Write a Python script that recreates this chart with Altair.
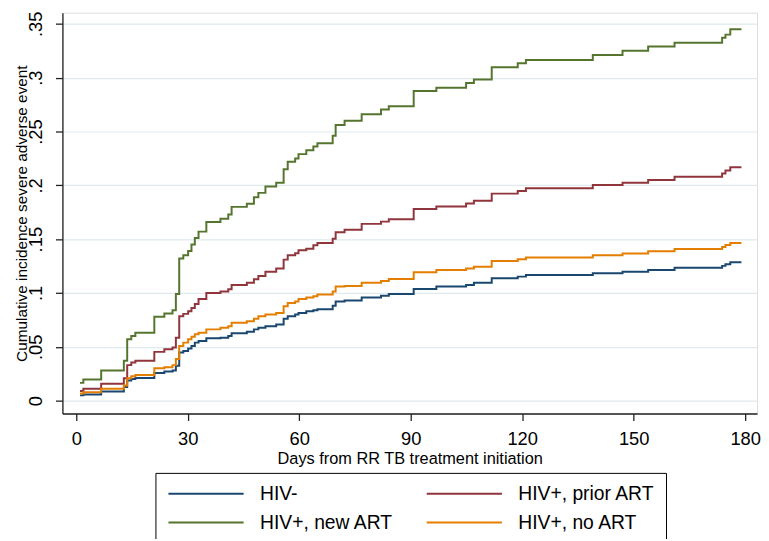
import altair as alt
import pandas as pd

# step times (days) shared by all four cumulative incidence curves
days = [1.0, 1.9, 6.7, 12.8, 13.7, 14.8, 15.9, 21.0, 23.7, 25.9,
        26.8, 27.7, 28.8, 30.1, 31.0, 31.9, 32.9, 35.0, 38.8, 40.9,
        41.8, 45.9, 47.8, 49.0, 50.9, 53.8, 55.8, 56.9, 58.9, 59.8,
        61.9, 63.8, 64.9, 69.0, 69.8, 72.2, 76.8, 82.0, 84.1, 90.8,
        96.9, 104.9, 107.0, 111.8, 118.8, 121.0, 139.0, 147.0, 153.9, 161.0,
        173.8, 174.7, 176.0, 179.0]

hiv_neg = [0.0049, 0.0058, 0.0086, 0.0126, 0.0187, 0.0202, 0.0211, 0.0257, 0.027, 0.0279,
           0.0324, 0.0447, 0.0462, 0.0484, 0.0508, 0.0539, 0.0554, 0.0579, 0.0585, 0.060,
           0.0625, 0.064, 0.0662, 0.0677, 0.0692, 0.0708, 0.076, 0.0784, 0.080, 0.0815,
           0.083, 0.0840, 0.0850, 0.0882, 0.0922, 0.0931, 0.0959, 0.0974, 0.099, 0.1038,
           0.106, 0.1075, 0.1096, 0.1137, 0.1152, 0.1167, 0.1183, 0.1197, 0.1213, 0.1234,
           0.1252, 0.1268, 0.1286, 0.1286]

hiv_prior_art = [0.0089, 0.011, 0.0156, 0.0208, 0.033, 0.0355, 0.037, 0.0453, 0.0478, 0.0493,
                 0.0585, 0.0784, 0.0806, 0.083, 0.086, 0.0898, 0.0944, 0.0999, 0.1014, 0.1035,
                 0.1075, 0.1096, 0.1127, 0.1158, 0.1197, 0.1228, 0.131, 0.135, 0.137, 0.1397,
                 0.1412, 0.1443, 0.1464, 0.1504, 0.1565, 0.1587, 0.1642, 0.1663, 0.1685, 0.178,
                 0.1804, 0.1832, 0.1856, 0.1923, 0.1948, 0.1972, 0.2003, 0.2024, 0.2049, 0.208,
                 0.211, 0.2137, 0.2168, 0.2168]

hiv_new_art = [0.0165, 0.0196, 0.028, 0.037, 0.057, 0.060, 0.063, 0.078, 0.081, 0.084,
               0.099, 0.132, 0.135, 0.139, 0.145, 0.151, 0.157, 0.166, 0.169, 0.173,
               0.180, 0.183, 0.189, 0.193, 0.199, 0.2025, 0.215, 0.222, 0.225, 0.229,
               0.2325, 0.236, 0.239, 0.246, 0.256, 0.260, 0.266, 0.2705, 0.2735, 0.2877,
               0.2907, 0.295, 0.2984, 0.3097, 0.3134, 0.3164, 0.321, 0.325, 0.329, 0.3324,
               0.337, 0.340, 0.345, 0.345]

hiv_no_art = [0.0067, 0.0077, 0.011, 0.014, 0.0208, 0.0227, 0.0239, 0.030, 0.031, 0.033,
              0.0386, 0.0508, 0.0539, 0.057, 0.0594, 0.0616, 0.063, 0.0662, 0.0677, 0.0692,
              0.0723, 0.0738, 0.076, 0.0784, 0.080, 0.0815, 0.0876, 0.0907, 0.0922, 0.0944,
              0.0959, 0.0970, 0.0985, 0.1014, 0.1060, 0.1066, 0.1096, 0.1112, 0.113, 0.1192,
              0.1213, 0.1228, 0.1243, 0.1298, 0.1314, 0.1329, 0.135, 0.1366, 0.1387, 0.1409,
              0.1427, 0.1445, 0.1464, 0.1464]

groups = ["HIV-", "HIV+, prior ART", "HIV+, new ART", "HIV+, no ART"]
colors = ["#1a476f", "#90353b", "#55752f", "#e37e00"]
x_ticks = [0, 30, 60, 90, 120, 150, 180]
y_ticks = [0, 0.05, 0.1, 0.15, 0.2, 0.25, 0.3, 0.35]

rows = []
for g, vals in zip(groups, [hiv_neg, hiv_prior_art, hiv_new_art, hiv_no_art]):
    for d, v in zip(days, vals):
        rows.append({"group": g, "day": d, "cum": v})
df = pd.DataFrame(rows)

FONT = "Liberation Sans"

chart = alt.Chart(df).mark_line(interpolate="step-after", strokeWidth=2).encode(
    x=alt.X("day:Q",
            scale=alt.Scale(domain=[-3.73, 183.2], nice=False, zero=False),
            axis=alt.Axis(values=x_ticks, title="Days from RR TB treatment initiation",
                          grid=False, tickSize=7, labelPadding=9, labelFontSize=18.5,
                          titleFontSize=16.5, titlePadding=3, labelFlush=False,
                          labelOverlap=False)),
    y=alt.Y("cum:Q",
            scale=alt.Scale(domain=[-0.01195, 0.3603], nice=False, zero=False),
            axis=alt.Axis(values=y_ticks, labelAngle=270,
                          labelExpr="datum.value == 0 ? '0' : replace(format(datum.value, '.2~f'), '0.', '.')",
                          title="Cumulative incidence severe adverse event",
                          grid=True, gridColor="#dfe9ee", gridWidth=1.2,
                          tickSize=7, labelPadding=10, labelFontSize=18.5,
                          titleFontSize=15.5, titleX=-41, titleBaseline="middle",
                          labelFlush=False, labelOverlap=False)),
    color=alt.Color("group:N",
                    scale=alt.Scale(domain=groups, range=colors),
                    sort=groups, title=None,
                    legend=alt.Legend(orient="none", legendX=94, legendY=465,
                                      direction="horizontal",
                                      columns=2, symbolType="M-5,0H5", symbolSize=231,
                                      symbolOffset=30.4,
                                      symbolStrokeWidth=2, labelFontSize=19.5,
                                      labelOffset=44.8, columnPadding=29, rowPadding=8.5,
                                      padding=11, strokeColor="#000000",
                                      fillColor="#ffffff", labelColor="#000000",
                                      labelLimit=300)),
).properties(
    width=702, height=405,
    autosize=alt.AutoSizeParams(type="none"),
    padding={"left": 55, "top": 2, "right": 4, "bottom": 124},
).configure_view(stroke=None).configure(
    font=FONT, background="#ffffff"
).configure_axis(
    domainColor="#222222", domainWidth=1.3, tickColor="#222222", tickWidth=1.3,
    labelColor="#000000", titleColor="#000000", labelFont=FONT, titleFont=FONT,
    titleFontWeight="normal"
).configure_legend(labelFont=FONT)

chart.save("out.html", embed_options={"renderer": "svg", "actions": False})
